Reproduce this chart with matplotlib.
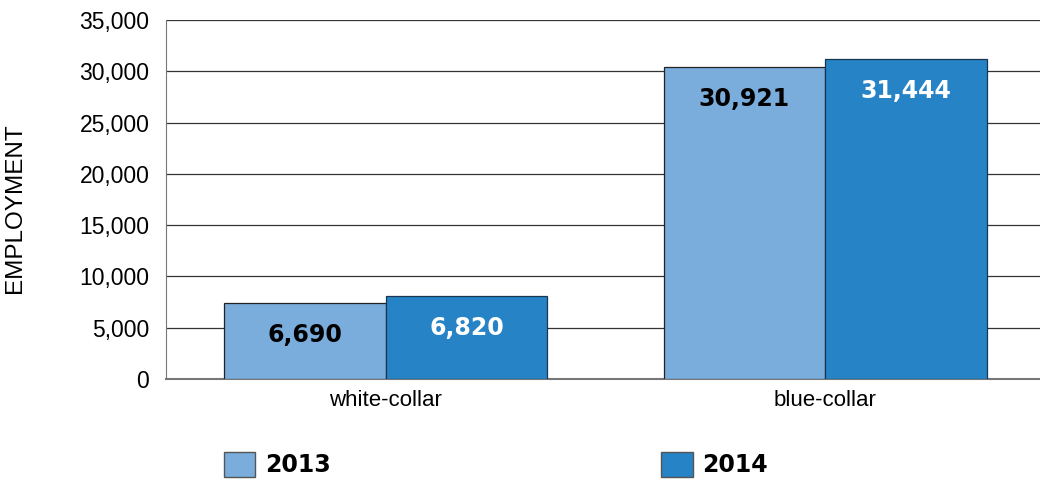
import matplotlib.pyplot as plt
from matplotlib.patches import Patch
from matplotlib.ticker import FuncFormatter
import numpy as np

plt.rcParams['font.family'] = ['Liberation Sans', 'DejaVu Sans']

categories = ['white-collar', 'blue-collar']
years = ['2013', '2014']
# bar heights as drawn in the picture
heights_2013 = [7380, 30390]
heights_2014 = [8090, 31170]
# printed labels (they do not match the drawn bars exactly)
labels_2013 = ['6,690', '30,921']
labels_2014 = ['6,820', '31,444']
yticks = [0, 5000, 10000, 15000, 20000, 25000, 30000, 35000]

c2013 = '#7aaddc'
c2014 = '#2683c6'

fig = plt.figure(figsize=(10.4, 4.8), dpi=100)
ax = fig.add_axes([0.1596, 0.2104, 0.8452, 0.7479])

x = np.arange(len(categories))
w = 0.368
b1 = ax.bar(x - w / 2, heights_2013, w, color=c2013, edgecolor='#222222', linewidth=0.9, zorder=3)
b2 = ax.bar(x + w / 2, heights_2014, w, color=c2014, edgecolor='#1a3550', linewidth=0.9, zorder=3)

for bars, labs, col in [(b1, labels_2013, 'black'), (b2, labels_2014, 'white')]:
    for rect, lab in zip(bars, labs):
        ax.annotate(lab, (rect.get_x() + rect.get_width() / 2, rect.get_height()),
                    xytext=(0, -23), textcoords='offset points',
                    ha='center', va='center', fontsize=17, fontweight='bold',
                    family='DejaVu Sans', color=col, zorder=4)

ax.set_xlim(-0.5, 1.5)
ax.set_ylim(0, 35000)
ax.set_yticks(yticks)
ax.yaxis.set_major_formatter(FuncFormatter(lambda v, p: f'{int(v):,}'))
ax.set_xticks(x)
ax.set_xticklabels(categories)
ax.tick_params(axis='y', length=0, labelsize=16.5, pad=12)
ax.tick_params(axis='x', length=0, labelsize=16, pad=8)
ax.grid(axis='y', color='#333333', linewidth=0.9, zorder=0)
for s in ['top', 'right']:
    ax.spines[s].set_visible(False)
ax.spines['left'].set_color('#777777')
ax.spines['bottom'].set_color('#777777')
ax.spines['bottom'].set_linewidth(1.5)

fig.text(15 / 1040, 1 - 208 / 480, 'EMPLOYMENT', rotation=90, ha='center', va='center', fontsize=17.5)

handles = [Patch(facecolor=c2013, edgecolor='#555555'), Patch(facecolor=c2014, edgecolor='#555555')]
fig.legend(handles, years, loc='center left', bbox_to_anchor=(224 / 1040, 1 - 464.5 / 480),
           ncol=2, frameon=False, borderpad=0, borderaxespad=0,
           prop={'size': 17, 'weight': 'bold', 'family': 'DejaVu Sans'},
           handlelength=1.33, handleheight=1.3, handletextpad=0.4, columnspacing=14.0)

fig.savefig('out.png', dpi=100)
